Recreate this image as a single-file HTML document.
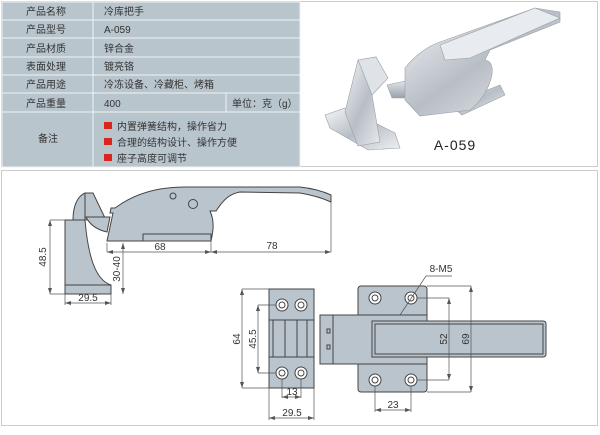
<!DOCTYPE html>
<html><head><meta charset="utf-8"><style>
body{margin:0;width:600px;height:430px;background:#fff;overflow:hidden;font-family:"Liberation Sans","Noto Sans CJK SC",sans-serif}
</style></head><body>
<svg width="600" height="430" viewBox="0 0 600 430" xmlns="http://www.w3.org/2000/svg" font-family="Liberation Sans, Noto Sans CJK SC, sans-serif">
<defs>
<linearGradient id="ch" x1="0" y1="0" x2="1" y2="1"><stop offset="0" stop-color="#f4f6f8"/><stop offset=".5" stop-color="#b8bec6"/><stop offset="1" stop-color="#eef0f3"/></linearGradient>
<linearGradient id="ch2" x1="0" y1="0" x2="0" y2="1"><stop offset="0" stop-color="#e6e9ee"/><stop offset="1" stop-color="#9aa1aa"/></linearGradient>
</defs>
<rect x="1.5" y="1.5" width="596" height="165" fill="none" stroke="#ccc"/>
<rect x="1.5" y="170.5" width="596" height="255" fill="none" stroke="#ccc"/>
<g fill="#b9c5cd" stroke="#eef2f4" stroke-width="1">
<rect x="2" y="2" width="91" height="18"/><rect x="93" y="2" width="207" height="18"/>
<rect x="2" y="20" width="91" height="18"/><rect x="93" y="20" width="207" height="18"/>
<rect x="2" y="38" width="91" height="19"/><rect x="93" y="38" width="207" height="19"/>
<rect x="2" y="57" width="91" height="18"/><rect x="93" y="57" width="207" height="18"/>
<rect x="2" y="75" width="91" height="18"/><rect x="93" y="75" width="207" height="18"/>
<rect x="2" y="93" width="91" height="19"/><rect x="93" y="93" width="133" height="19"/><rect x="226" y="93" width="74" height="19"/>
<rect x="2" y="112" width="91" height="55"/><rect x="93" y="112" width="207" height="55"/>
</g>
<g font-size="10" fill="#333">
<text x="26" y="15">产品名称</text><text x="104" y="15">冷库把手</text>
<text x="26" y="33">产品型号</text><text x="104" y="33">A-059</text>
<text x="26" y="52">产品材质</text><text x="104" y="52">锌合金</text>
<text x="26" y="70">表面处理</text><text x="104" y="70">镀亮铬</text>
<text x="26" y="88">产品用途</text><text x="104" y="88">冷冻设备、冷藏柜、烤箱</text>
<text x="26" y="107">产品重量</text><text x="104" y="107">400</text><text x="232" y="107">单位：克（g）</text>
<text x="38" y="142">备注</text>
<text x="117" y="130">内置弹簧结构，操作省力</text>
<text x="117" y="146">合理的结构设计、操作方便</text>
<text x="117" y="162">座子高度可调节</text>
</g>
<g fill="#d8261c"><rect x="104" y="122" width="8" height="7"/><rect x="104" y="138" width="8" height="7"/><rect x="104" y="154" width="8" height="7"/></g>
<!-- photo -->
<g stroke="#9aa0a8" stroke-width=".6">
<polygon points="325,115 345,108 395,133 400,148 368,150 330,128" fill="url(#ch)"/>
<polygon points="345,112 358,60 376,57 385,78 372,95 380,142 358,146" fill="url(#ch)"/>
<polygon points="358,60 376,57 388,78 372,95" fill="#dfe3e8"/>
<polygon points="450,105 500,85 505,95 462,115" fill="url(#ch)"/>
<polygon points="387,85 410,80 418,98 392,98" fill="url(#ch2)"/>
<path d="M405,68 C415,55 430,45 440,42 L535,8 L560,12 L560,22 L490,50 L485,60 C500,62 490,95 470,110 L420,116 L405,100 Z" fill="url(#ch)"/>
<polygon points="440,45 535,8 560,18 470,58 445,60" fill="#e8ebef"/>
</g>
<text x="455" y="150" text-anchor="middle" font-size="14" fill="#222" letter-spacing="1">A-059</text>
<!-- side view -->
<g fill="#bac4cc" stroke="#444" stroke-width="1">
<path d="M65,220 L85,220 C88,255 95,280 111,285 L111,294 L65,294 Z"/>
<line x1="65" y1="285" x2="111" y2="285"/>
<path d="M73,220 C73,205 78,196 85,193 L93,193 L105,218 L85,220 Z"/>
<line x1="85" y1="193" x2="85" y2="220"/>
<path d="M86,217 L110,217 L107,232 C98,230 90,225 86,217 Z"/>
<path d="M107,241 L113,213 L110,213 L111,208 L115,208 C135,193 160,187 185,187 L300,187 Q318,189 331,195 L331,202 Q318,196 300,193 L240,192 C228,194 222,202 216,211 L210,211 C215,222 213,232 211,241 Z"/>
<rect x="143" y="234" width="68" height="7"/>
<circle cx="173" cy="196" r="3" fill="none"/><circle cx="193" cy="204" r="4.5" fill="none"/>
</g>
<!-- top view -->
<g stroke="#444" stroke-width="1" fill="#bac4cc">
<rect x="269" y="289" width="45" height="99"/>
<rect x="273" y="320" width="34" height="37"/>
<line x1="285" y1="320" x2="285" y2="357"/><line x1="297" y1="320" x2="297" y2="357"/>
<line x1="269" y1="320" x2="314" y2="320"/><line x1="269" y1="357" x2="314" y2="357"/>
<rect x="320" y="315" width="13" height="49"/>
<rect x="358" y="286" width="69" height="106" rx="3"/>
<rect x="333" y="315" width="94" height="49"/>
<path d="M372,321 L543,321 Q546,321 546,324 L546,354 Q546,357 543,357 L372,357 Z"/>
<rect x="375" y="324" width="168" height="30" fill="none"/>
<rect x="327" y="329" width="3" height="4"/><rect x="327" y="345" width="3" height="4"/>
</g>
<g fill="#fff" stroke="#444" stroke-width="1">
<circle cx="282" cy="305" r="6"/><circle cx="282" cy="305" r="3"/>
<circle cx="301" cy="305" r="6"/><circle cx="301" cy="305" r="3"/>
<circle cx="282" cy="373" r="6"/><circle cx="282" cy="373" r="3"/>
<circle cx="301" cy="373" r="6"/><circle cx="301" cy="373" r="3"/>
<circle cx="375" cy="298" r="6"/><circle cx="375" cy="298" r="3"/>
<circle cx="411" cy="298" r="6"/><circle cx="411" cy="298" r="3"/>
<circle cx="375" cy="380" r="6"/><circle cx="375" cy="380" r="3"/>
<circle cx="411" cy="380" r="6"/><circle cx="411" cy="380" r="3"/>
</g>
<g stroke="#555" stroke-width=".7" fill="none">
<path d="M50,220 H65 M50,294 H65 M50,220 V294"/>
<path d="M123,243 V294 M107,252 V243 M107,252 H331 M211,241 V252 M331,202 V252"/>
<path d="M65,294 V305 M111,294 V305 M65,303 H111"/>
<path d="M242,289 H269 M242,388 H269 M242,289 V388"/>
<path d="M258,305 H276 M258,373 H276 M258,305 V373"/>
<path d="M282,379 V398 M301,379 V398 M282,397 H301"/>
<path d="M269,388 V420 M314,388 V420 M269,418 H314"/>
<path d="M375,386 V412 M411,386 V412 M375,410 H411"/>
<path d="M417,298 H449 M417,380 H449 M449,298 V380"/>
<path d="M427,286 H471 M427,392 H471 M471,286 V392"/>
<path d="M400,315 L426,276 H452"/>
</g>
<g fill="#555">
<path d="M50,220 l-2,6 h4z M50,294 l-2,-6 h4z M242,289 l-2,6 h4z M242,388 l-2,-6 h4z M258,305 l-2,6 h4z M258,373 l-2,-6 h4z M449,298 l-2,6 h4z M449,380 l-2,-6 h4z M471,286 l-2,6 h4z M471,392 l-2,-6 h4z M123,243 l-2,6 h4z M123,294 l-2,-6 h4z"/>
<path d="M107,252 l6,-2 v4z M211,252 l-6,-2 v4z M211,252 l6,-2 v4z M331,252 l-6,-2 v4z M65,303 l6,-2 v4z M111,303 l-6,-2 v4z M269,418 l6,-2 v4z M314,418 l-6,-2 v4z M375,410 l6,-2 v4z M411,410 l-6,-2 v4z M282,397 l6,-2 v4z M301,397 l-6,-2 v4z"/>
</g>
<g font-size="10" fill="#333">
<text x="160" y="250" text-anchor="middle">68</text>
<text x="272" y="249" text-anchor="middle">78</text>
<text x="88" y="301" text-anchor="middle">29.5</text>
<text x="292" y="395" text-anchor="middle">13</text>
<text x="292" y="416" text-anchor="middle">29.5</text>
<text x="393" y="408" text-anchor="middle">23</text>
<text x="441" y="272" text-anchor="middle">8-M5</text>
<text transform="translate(46,257) rotate(-90)" text-anchor="middle">48.5</text>
<text transform="translate(120,269) rotate(-90)" text-anchor="middle">30-40</text>
<text transform="translate(240,339) rotate(-90)" text-anchor="middle">64</text>
<text transform="translate(256,339) rotate(-90)" text-anchor="middle">45.5</text>
<text transform="translate(447,339) rotate(-90)" text-anchor="middle">52</text>
<text transform="translate(469,339) rotate(-90)" text-anchor="middle">69</text>
</g>
</svg>
</body></html>
